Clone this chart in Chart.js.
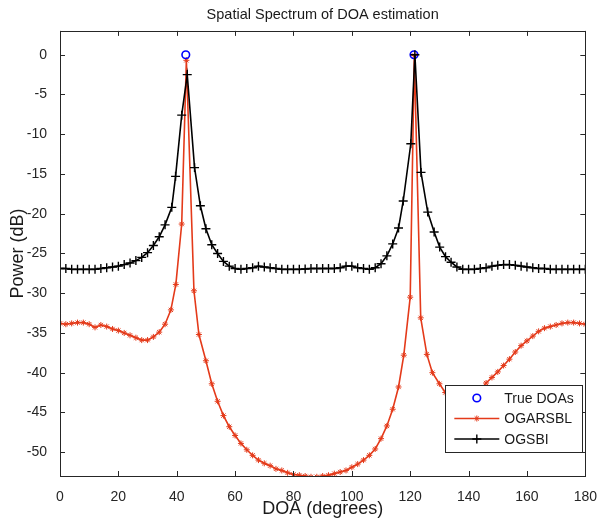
<!DOCTYPE html>
<html>
<head>
<meta charset="utf-8">
<script src="https://cdn.jsdelivr.net/npm/chart.js@4.4.1/dist/chart.umd.min.js"></script>
<style>
  body { margin: 0; background: #fff; }
  canvas { display: block; }
</style>
</head>
<body>
<canvas id="doaChart" width="602" height="520"></canvas>
<script>
// --- DATA ---
const trueDoaX = [43.1, 121.3];
const trueDoaY = [0, 0];

const ogarsblX = [0, 2, 4, 6, 8, 10, 12, 14, 16, 18, 20, 22, 24, 26, 28, 30, 32, 34, 36, 38,
  39.7, 41.7, 43.3, 45.9, 47.6, 50, 52, 54, 56, 58, 60, 62, 64, 66, 68, 70, 72, 74, 76, 78,
  80, 82, 84, 86, 88, 90, 92, 94, 96, 98, 100, 102, 104, 106, 108, 110, 112, 114, 116, 117.8,
  120, 121.4, 123.6, 125.7, 127.6, 130, 132, 134, 136, 138, 140, 142, 144, 146, 148, 150,
  152, 154, 156, 158, 160, 162, 164, 166, 168, 170, 172, 174, 176, 178, 180];
const ogarsblY = [-33.8, -33.9, -33.8, -33.7, -33.7, -33.9, -34.3, -34.0, -34.2, -34.5, -34.7, -35.0, -35.3, -35.6, -35.9, -35.9, -35.5, -34.9, -33.9, -32.1,
  -28.9, -21.3, -0.7, -29.7, -35.2, -38.5, -41.4, -43.6, -45.4, -46.8, -47.9, -48.9, -49.7, -50.4, -51.0, -51.4, -51.7, -52.1, -52.3, -52.6,
  -52.8, -52.9, -53.0, -53.1, -53.1, -53.0, -52.9, -52.7, -52.5, -52.3, -51.9, -51.5, -51.0, -50.4, -49.6, -48.3, -46.7, -44.6, -41.8, -37.8,
  -30.5, -0.1, -33.1, -37.7, -40.0, -41.4, -42.5, -43.2, -43.6, -43.6, -43.3, -42.8, -42.2, -41.3, -40.6, -39.9,
  -39.1, -38.3, -37.4, -36.6, -36.0, -35.4, -34.8, -34.4, -34.2, -34.0, -33.8, -33.7, -33.7, -33.8, -33.9];

const ogsbiX = [0, 2, 4, 6, 8, 10, 12, 14, 16, 18, 20, 22, 24, 26, 28, 30, 32, 34, 36, 38.3,
  39.6, 41.7, 43.6, 46.1, 48.1, 50, 52, 54, 56, 58, 60, 62, 64, 66, 68, 70, 72, 74, 76, 78,
  80, 82, 84, 86, 88, 90, 92, 94, 96, 98, 100, 102, 104, 106, 108, 110, 112, 114, 116, 117.6,
  120.2, 121.6, 123.7, 126, 128.2, 130.1, 132.1, 134, 136, 138, 140, 142, 144, 146, 148, 150,
  152, 154, 156, 158, 160, 162, 164, 166, 168, 170, 172, 174, 176, 178, 180];
const ogsbiY = [-26.9, -26.9, -27.0, -27.0, -27.0, -27.0, -27.0, -26.9, -26.8, -26.7, -26.6, -26.4, -26.2, -25.9, -25.5, -24.9, -24.0, -22.9, -21.4, -19.2,
  -15.3, -7.6, -2.5, -14.2, -19.0, -21.9, -23.9, -25.0, -26.0, -26.6, -26.9, -27.0, -26.9, -26.8, -26.6, -26.7, -26.8, -26.9, -27.0, -27.0,
  -27.0, -27.0, -26.95, -26.9, -26.9, -26.9, -26.9, -26.9, -26.8, -26.6, -26.6, -26.8, -26.9, -27.0, -26.8, -26.3, -25.3, -23.8, -21.8, -18.4,
  -11.2, 0.0, -14.8, -19.8, -22.3, -24.2, -25.4, -26.1, -26.7, -27.0, -27.0, -27.0, -26.9, -26.8, -26.6, -26.5,
  -26.4, -26.4, -26.5, -26.6, -26.7, -26.8, -26.9, -26.9, -27.0, -27.0, -27.0, -27.0, -27.0, -27.0, -27.0];

const xTicks = [0, 20, 40, 60, 80, 100, 120, 140, 160, 180];
const yTicks = [0, -5, -10, -15, -20, -25, -30, -35, -40, -45, -50];

const RED = '#e43a1a';
const BLUE = '#0000ff';
const AXIS = '#262626';

const toXY = (xs, ys) => xs.map((x, i) => ({x: x, y: ys[i]}));

Chart.defaults.font.family = "'Liberation Sans', Arial, sans-serif";
Chart.defaults.color = AXIS;

// title centred over the axes, not the whole canvas
const titleOverAxes = {
    id: 'titleOverAxes',
    afterLayout(chart) {
        if (chart.titleBlock) {
            chart.titleBlock.left = chart.chartArea.left;
            chart.titleBlock.right = chart.chartArea.right;
        }
    }
};

// --- box + inward ticks on all four sides (matlab style) ---
const boxTicks = {
    id: 'boxTicks',
    afterDatasetsDraw(chart) {
        const {ctx, chartArea: a, scales: {x, y}} = chart;
        ctx.save();
        ctx.strokeStyle = AXIS;
        ctx.lineWidth = 1;
        ctx.beginPath();
        x.ticks.forEach(t => {
            const px = Math.round(x.getPixelForValue(t.value)) + 0.5;
            ctx.moveTo(px, a.bottom); ctx.lineTo(px, a.bottom - 5);
            ctx.moveTo(px, a.top); ctx.lineTo(px, a.top + 5);
        });
        y.ticks.forEach(t => {
            const py = Math.round(y.getPixelForValue(t.value)) + 0.5;
            ctx.moveTo(a.left, py); ctx.lineTo(a.left + 5, py);
            ctx.moveTo(a.right, py); ctx.lineTo(a.right - 5, py);
        });
        ctx.stroke();
        ctx.strokeRect(Math.round(a.left) + 0.5, Math.round(a.top) + 0.5,
                       Math.round(a.width), Math.round(a.height));
        ctx.restore();
    }
};

// --- legend box in lower right of the axes ---
const boxLegend = {
    id: 'boxLegend',
    afterDraw(chart) {
        const {ctx, chartArea: a} = chart;
        const w = 137, h = 67;
        const left = a.right - 3 - w, top = 385;
        ctx.save();
        ctx.fillStyle = '#fff';
        ctx.fillRect(left, top, w, h);
        ctx.strokeStyle = AXIS;
        ctx.lineWidth = 1;
        ctx.strokeRect(Math.round(left) + 0.5, top + 0.5, w, h);
        chart.data.datasets.forEach((ds, i) => {
            const cy = top + 13 + i * 20.5;
            const x0 = left + 9, x1 = left + 54, cx = (x0 + x1) / 2;
            if (ds.showLine !== false) {
                ctx.strokeStyle = ds.borderColor;
                ctx.lineWidth = ds.borderWidth;
                ctx.beginPath();
                ctx.moveTo(x0, cy); ctx.lineTo(x1, cy);
                ctx.stroke();
            }
            ctx.strokeStyle = ds.pointBorderColor;
            ctx.fillStyle = ds.pointBackgroundColor;
            ctx.lineWidth = ds.pointBorderWidth;
            Chart.helpers.drawPoint(ctx, {
                pointStyle: ds.pointStyle,
                radius: ds.pointRadius,
                borderWidth: ds.pointBorderWidth,
                rotation: 0
            }, cx, cy);
            ctx.fillStyle = '#1a1a1a';
            ctx.font = "14px 'Liberation Sans', Arial, sans-serif";
            ctx.textBaseline = 'middle';
            ctx.textAlign = 'left';
            ctx.fillText(ds.label, left + 59, cy + 1);
        });
        ctx.restore();
    }
};

new Chart(document.getElementById('doaChart'), {
    type: 'line',
    data: {
        datasets: [
            {
                label: 'True DOAs',
                data: toXY(trueDoaX, trueDoaY),
                showLine: false,
                borderColor: BLUE,
                backgroundColor: 'rgba(0,0,0,0)',
                pointStyle: 'circle',
                pointRadius: 3.8,
                pointBorderWidth: 1.6,
                pointBorderColor: BLUE,
                pointBackgroundColor: 'rgba(0,0,0,0)',
                order: 2
            },
            {
                label: 'OGARSBL',
                data: toXY(ogarsblX, ogarsblY),
                borderColor: RED,
                borderWidth: 1.6,
                pointStyle: 'star',
                pointRadius: 3,
                pointBorderWidth: 1,
                pointBorderColor: RED,
                pointBackgroundColor: RED,
                tension: 0,
                order: 3
            },
            {
                label: 'OGSBI',
                data: toXY(ogsbiX, ogsbiY),
                borderColor: '#000',
                borderWidth: 1.6,
                pointStyle: 'cross',
                pointRadius: 4.5,
                pointBorderWidth: 1.4,
                pointBorderColor: '#000',
                pointBackgroundColor: '#000',
                tension: 0,
                order: 1
            }
        ]
    },
    options: {
        responsive: false,
        animation: false,
        devicePixelRatio: 1,
        layout: { padding: { left: 0, right: 14, top: 0, bottom: 0 } },
        plugins: {
            legend: { display: false },
            tooltip: { enabled: false },
            title: {
                display: true,
                text: 'Spatial Spectrum of DOA estimation',
                color: '#1a1a1a',
                font: { size: 14.5, weight: 'normal' },
                padding: { top: 6, bottom: 7.5 }
            }
        },
        scales: {
            x: {
                type: 'linear',
                min: 0,
                max: 180,
                afterFit: s => { s.height = 44; },
                afterBuildTicks: s => { s.ticks = xTicks.map(v => ({value: v})); },
                grid: { display: false },
                border: { display: false },
                ticks: { padding: 5, font: { size: 14 }, color: AXIS, maxRotation: 0 },
                title: {
                    display: true,
                    text: 'DOA (degrees)',
                    color: '#1a1a1a',
                    font: { size: 18 },
                    padding: { top: 0, bottom: 0 }
                }
            },
            y: {
                min: -53,
                max: 3,
                afterFit: s => { s.width = 60; },
                afterBuildTicks: s => { s.ticks = yTicks.map(v => ({value: v})); },
                grid: { display: false },
                border: { display: false },
                ticks: { padding: 5, font: { size: 14 }, color: AXIS },
                title: {
                    display: true,
                    text: 'Power (dB)',
                    color: '#1a1a1a',
                    font: { size: 18 },
                    padding: { top: 7, bottom: 0 }
                }
            }
        }
    },
    plugins: [titleOverAxes, boxTicks, boxLegend]
});
</script>
</body>
</html>
